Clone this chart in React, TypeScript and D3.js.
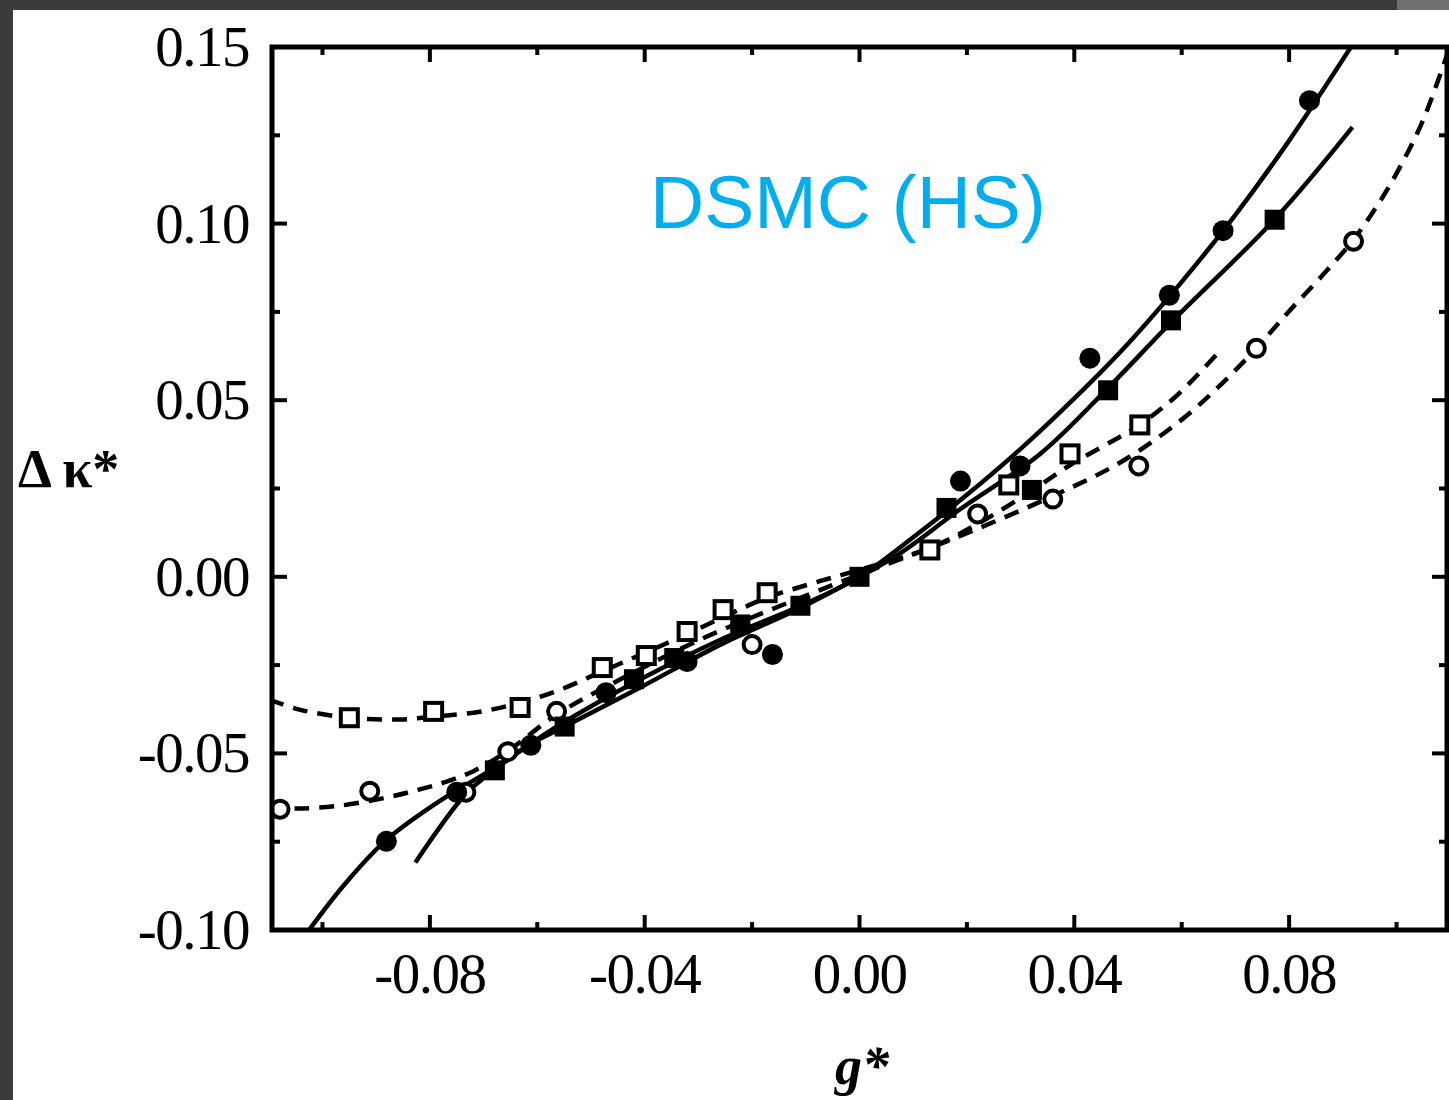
import React from "react";
import * as d3 from "d3";

// ---- data (g*, Δκ*) ----
const filledCircles: [number, number][] = [
  [-0.0881, -0.0749], [-0.075, -0.061], [-0.0612, -0.0477], [-0.0472, -0.0328],
  [-0.0321, -0.024], [-0.0222, -0.014], [-0.0162, -0.022], [0.0188, 0.0271],
  [0.0299, 0.0314], [0.0429, 0.0619], [0.0577, 0.0797], [0.0677, 0.098], [0.0838, 0.1348],
];
const filledSquares: [number, number][] = [
  [-0.0679, -0.0548], [-0.0549, -0.0424], [-0.042, -0.029], [-0.0345, -0.023],
  [-0.0222, -0.0135], [-0.011, -0.0082], [0, 0], [0.0162, 0.0195], [0.0321, 0.0246],
  [0.0463, 0.0528], [0.058, 0.0726], [0.0773, 0.1011],
];
const openCircles: [number, number][] = [
  [-0.1079, -0.0658], [-0.0912, -0.0607], [-0.0733, -0.061], [-0.0655, -0.0495],
  [-0.0564, -0.0381], [-0.02, -0.0192], [0.022, 0.0178], [0.036, 0.022],
  [0.052, 0.0314], [0.0739, 0.0647], [0.092, 0.095],
];
const openSquares: [number, number][] = [
  [-0.095, -0.0399], [-0.0793, -0.0381], [-0.0632, -0.037], [-0.0479, -0.0257],
  [-0.0397, -0.0223], [-0.0321, -0.0155], [-0.0254, -0.0093], [-0.0172, -0.0045],
  [0.0131, 0.0076], [0.0278, 0.026], [0.0392, 0.0348], [0.0522, 0.043],
];

// fitted curves (read point by point)
const curveFilledCircles: [number, number][] = [
  [-0.1024, -0.0998], [-0.0959, -0.0871], [-0.0881, -0.0745], [-0.0782, -0.0635],
  [-0.0679, -0.054], [-0.0558, -0.0419], [-0.0409, -0.0291], [-0.0259, -0.0178],
  [-0.011, -0.0082], [0, 0], [0.01, 0.0112], [0.02, 0.0232], [0.03, 0.0362],
  [0.04, 0.0505], [0.05, 0.066], [0.06, 0.0835], [0.07, 0.1025], [0.08, 0.1235],
  [0.0916, 0.1502],
];
const curveFilledSquares: [number, number][] = [
  [-0.0827, -0.0809], [-0.0782, -0.071], [-0.0731, -0.0611], [-0.0679, -0.0546],
  [-0.0614, -0.0475], [-0.0549, -0.0424], [-0.0409, -0.0314], [-0.0259, -0.0192],
  [-0.011, -0.0088], [0, 0], [0.0077, 0.0068], [0.0188, 0.0192], [0.0338, 0.035],
  [0.0463, 0.0535], [0.058, 0.072], [0.0773, 0.1012], [0.0918, 0.1273],
];
const curveOpenCircles: [number, number][] = [
  [-0.1099, -0.0653], [-0.1043, -0.0656], [-0.0968, -0.0648], [-0.0881, -0.0625],
  [-0.0819, -0.0602], [-0.0769, -0.058], [-0.072, -0.0551], [-0.0651, -0.0489],
  [-0.0564, -0.039], [-0.0446, -0.0291], [-0.0297, -0.0178], [-0.0147, -0.0082],
  [0, 0.0006], [0.017, 0.0105], [0.0356, 0.0226], [0.0487, 0.0325], [0.06, 0.0445],
  [0.067, 0.054], [0.0739, 0.0647], [0.08, 0.0752], [0.086, 0.085], [0.092, 0.0955],
  [0.097, 0.1065], [0.101, 0.117], [0.105, 0.1295], [0.1097, 0.149],
];
const curveOpenSquares: [number, number][] = [
  [-0.1099, -0.0348], [-0.1043, -0.0376], [-0.095, -0.0399], [-0.0856, -0.0404],
  [-0.0793, -0.0396], [-0.0707, -0.0382], [-0.0631, -0.0356], [-0.0558, -0.032],
  [-0.0481, -0.0269], [-0.0399, -0.0215], [-0.0315, -0.0158], [-0.0241, -0.0105],
  [-0.0172, -0.0059], [-0.0091, -0.002], [0, 0.002], [0.0131, 0.0082],
  [0.0226, 0.0155], [0.0319, 0.0242], [0.0394, 0.0318], [0.0519, 0.0428],
  [0.059, 0.0512], [0.0664, 0.0628],
];

const xMajor = [-0.08, -0.04, 0, 0.04, 0.08];
const xMinor = [-0.1, -0.06, -0.02, 0.02, 0.06, 0.1];
const yMajor = [-0.1, -0.05, 0, 0.05, 0.1, 0.15];
const yMinor = [-0.075, -0.025, 0.025, 0.075, 0.125];
const xLabel = "g*";
const yLabel = "Δ κ*";
const title = "DSMC (HS)";

const W = 1449, H = 1100;
const L = 272, R = 1447, T = 47, B = 930;

export default function App() {
  const x = d3.scaleLinear().domain([-0.1094, 0.1094]).range([L, R]);
  const y = d3.scaleLinear().domain([-0.1, 0.15]).range([B, T]);
  const line = d3.line<[number, number]>()
    .x((d) => x(d[0])).y((d) => y(d[1]))
    .curve(d3.curveCatmullRom.alpha(0.5));
  const fmt = (v: number) => (Math.abs(v) < 1e-9 ? "0.00" : d3.format(".2f")(v).replace("−", "-"));
  const serif = "'Liberation Serif', 'Times New Roman', serif";
  const MJ = 15, MN = 8, SW = 4;

  return (
    <svg width={W} height={H} style={{ position: "absolute", left: 0, top: 0, background: "#fff" }}>
      <rect x={0} y={0} width={W} height={H} fill="#fff" />
      <rect x={0} y={0} width={W} height={10} fill="#3b3b3b" />
      <rect x={1397} y={0} width={52} height={10} fill="#707070" />
      <rect x={0} y={0} width={13} height={H} fill="#3b3b3b" />
      <defs>
        <clipPath id="plotclip">
          <rect x={L} y={T} width={R - L} height={B - T} />
        </clipPath>
      </defs>

      {/* curves */}
      <g clipPath="url(#plotclip)" fill="none" stroke="#000" strokeWidth={4.5}>
        <path d={line(curveFilledCircles) || ""} />
        <path d={line(curveFilledSquares) || ""} />
        <path d={line(curveOpenCircles) || ""} strokeDasharray="15,10" />
        <path d={line(curveOpenSquares) || ""} strokeDasharray="15,10" />
      </g>

      {/* markers */}
      <g clipPath="url(#plotclip)">
        {openSquares.map((d, i) => (
          <rect key={"os" + i} x={x(d[0]) - 8.5} y={y(d[1]) - 8.5} width={17} height={17}
            fill="#fff" stroke="#000" strokeWidth={4} />
        ))}
        {openCircles.map((d, i) => (
          <circle key={"oc" + i} cx={x(d[0])} cy={y(d[1])} r={8.5}
            fill="#fff" stroke="#000" strokeWidth={4} />
        ))}
        {filledSquares.map((d, i) => (
          <rect key={"fs" + i} x={x(d[0]) - 10} y={y(d[1]) - 10} width={20} height={20} fill="#000" />
        ))}
        {filledCircles.map((d, i) => (
          <circle key={"fc" + i} cx={x(d[0])} cy={y(d[1])} r={10.5} fill="#000" />
        ))}
      </g>

      {/* frame */}
      <rect x={L} y={T} width={R - L} height={B - T} fill="none" stroke="#000" strokeWidth={5} />

      {/* ticks */}
      <g stroke="#000" strokeWidth={SW}>
        {xMajor.map((v) => (
          <g key={"xM" + v}>
            <line x1={x(v)} x2={x(v)} y1={B} y2={B - MJ} />
            <line x1={x(v)} x2={x(v)} y1={T} y2={T + MJ} />
          </g>
        ))}
        {xMinor.map((v) => (
          <g key={"xm" + v}>
            <line x1={x(v)} x2={x(v)} y1={B} y2={B - MN} />
            <line x1={x(v)} x2={x(v)} y1={T} y2={T + MN} />
          </g>
        ))}
        {yMajor.map((v) => (
          <g key={"yM" + v}>
            <line x1={L} x2={L + MJ} y1={y(v)} y2={y(v)} />
            <line x1={R} x2={R - MJ} y1={y(v)} y2={y(v)} />
          </g>
        ))}
        {yMinor.map((v) => (
          <g key={"ym" + v}>
            <line x1={L} x2={L + MN} y1={y(v)} y2={y(v)} />
            <line x1={R} x2={R - MN} y1={y(v)} y2={y(v)} />
          </g>
        ))}
      </g>

      {/* tick labels */}
      <g fontFamily={serif} fontSize={57} fill="#000" letterSpacing={-1.5}>
        {xMajor.map((v) => (
          <text key={"xl" + v} x={x(v)} y={993} textAnchor="middle">{fmt(v)}</text>
        ))}
        {yMajor.map((v) => (
          <text key={"yl" + v} x={249} y={y(v) + 19} textAnchor="end">{fmt(v)}</text>
        ))}
      </g>

      {/* axis titles */}
      <text x={18} y={487} fontFamily={serif} fontSize={54} fontWeight="bold" fill="#000">{yLabel}</text>
      <text x={862} y={1084} fontFamily={serif} fontSize={54} fontWeight="bold" fontStyle="italic"
        textAnchor="middle" fill="#000">{xLabel}</text>

      <text x={650} y={228} fontFamily="'Liberation Sans', Arial, sans-serif" fontSize={75} fill="#00AEEF">{title}</text>
    </svg>
  );
}
